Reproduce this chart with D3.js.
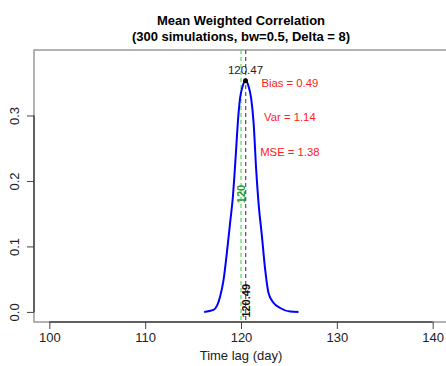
<!DOCTYPE html>
<html>
<head>
<meta charset="utf-8">
<script src="https://cdn.jsdelivr.net/npm/d3@7"></script>
<style>
  body { margin: 0; background: #fff; }
  svg { font-family: "Liberation Sans", Arial, sans-serif; }
</style>
</head>
<body>
<svg id="chart" width="446" height="366"></svg>
<script>
// curve (time lag, weighted correlation)
const lagValues = [116.16, 117.13, 117.83, 118.18, 118.53, 118.87, 119.16, 119.29, 119.5, 119.7, 119.9,
  120.18, 120.47, 120.76, 121.06, 121.32, 121.58, 121.82, 122.18, 122.52, 122.87, 123.39, 124.09, 125.13, 126.0]
const corrValues = [0.0, 0.003, 0.024, 0.049, 0.091, 0.137, 0.177, 0.203, 0.25, 0.295, 0.326,
  0.345, 0.353, 0.346, 0.326, 0.288, 0.218, 0.168, 0.116, 0.065, 0.029, 0.014, 0.006, 0.0005, 0.0]

const xTicks = [100, 110, 120, 130, 140]
const yTicks = [0.0, 0.1, 0.2, 0.3]

const trueLag = 120
const estLag = 120.49
const peak = [120.47, 0.353]
const stats = [`Bias = 0.49`, `Var = 1.14`, `MSE = 1.38`]

//
// layout
//
const mLeft = 34, mRight = 448, mTop = 50, mBottom = 322
const font = `"Liberation Sans", Arial, sans-serif`
const svg = d3.select(`#chart`)

const x = d3.scaleLinear().domain([98.4, 141.6]).range([mLeft, mRight])
const y = d3.scaleLinear().domain([-0.0154, 0.4]).range([mBottom, mTop])

// titles
svg.append(`text`).attr(`x`, 241).attr(`y`, 25).attr(`text-anchor`, `middle`)
  .attr(`font-weight`, `bold`).attr(`font-size`, 13).text(`Mean Weighted Correlation`)
svg.append(`text`).attr(`x`, 241).attr(`y`, 41).attr(`text-anchor`, `middle`)
  .attr(`font-weight`, `bold`).attr(`font-size`, 13).text(`(300 simulations, bw=0.5, Delta = 8)`)

// box
svg.append(`rect`).attr(`x`, mLeft).attr(`y`, mTop).attr(`width`, mRight - mLeft).attr(`height`, mBottom - mTop)
  .attr(`fill`, `none`).attr(`stroke`, `#999`).attr(`stroke-width`, 1.5)

// x axis
const gx = svg.append(`g`).attr(`transform`, `translate(0,${mBottom})`)
  .call(d3.axisBottom(x).tickValues(xTicks).tickSize(7).tickPadding(4).tickFormat(d3.format(`d`)))
gx.select(`.domain`).remove()
gx.selectAll(`.tick line`).attr(`stroke`, `#444`)
gx.selectAll(`text`).attr(`font-size`, 13).attr(`fill`, `#222`).style(`font-family`, font)
svg.append(`line`).attr(`x1`, x(xTicks[0])).attr(`x2`, x(xTicks[xTicks.length - 1]))
  .attr(`y1`, mBottom).attr(`y2`, mBottom).attr(`stroke`, `#444`).attr(`stroke-width`, 1.5)

// y axis
const gy = svg.append(`g`).attr(`transform`, `translate(${mLeft},0)`)
  .call(d3.axisLeft(y).tickValues(yTicks).tickSize(7).tickFormat(d3.format(`.1f`)))
gy.select(`.domain`).remove()
gy.selectAll(`.tick line`).attr(`stroke`, `#444`)
gy.selectAll(`text`).attr(`font-size`, 13).attr(`fill`, `#222`)
  .style(`font-family`, font)
  .attr(`x`, 0).attr(`dy`, 0).attr(`text-anchor`, `middle`)
  .attr(`transform`, `translate(-15,0) rotate(-90)`)
svg.append(`line`).attr(`x1`, mLeft).attr(`x2`, mLeft)
  .attr(`y1`, y(yTicks[0])).attr(`y2`, y(yTicks[yTicks.length - 1])).attr(`stroke`, `#444`).attr(`stroke-width`, 1.5)

// x label
svg.append(`text`).attr(`x`, 241).attr(`y`, 360).attr(`text-anchor`, `middle`)
  .attr(`font-size`, 13).attr(`fill`, `#222`).text(`Time lag (day)`)

// reference lines
svg.append(`line`).attr(`x1`, x(trueLag)).attr(`x2`, x(trueLag)).attr(`y1`, mTop).attr(`y2`, mBottom)
  .attr(`stroke`, `#55dd55`).attr(`stroke-width`, 1.2).attr(`stroke-dasharray`, `4,3`)
svg.append(`line`).attr(`x1`, x(estLag)).attr(`x2`, x(estLag)).attr(`y1`, mTop).attr(`y2`, mBottom)
  .attr(`stroke`, `#555`).attr(`stroke-width`, 1.2).attr(`stroke-dasharray`, `4,3`)

// curve
const line = d3.line().x((d, i) => x(lagValues[i])).y(d => y(d)).curve(d3.curveMonotoneX)
svg.append(`path`).datum(corrValues).attr(`d`, line)
  .attr(`fill`, `none`).attr(`stroke`, `#0000ff`).attr(`stroke-width`, 2)

// peak point and label
svg.append(`circle`).attr(`cx`, x(peak[0])).attr(`cy`, y(peak[1])).attr(`r`, 2.5).attr(`fill`, `#000`)
svg.append(`text`).attr(`x`, x(peak[0])).attr(`y`, y(peak[1]) - 7).attr(`text-anchor`, `middle`)
  .attr(`font-size`, 11.5).attr(`fill`, `#222`).text(peak[0].toFixed(2))

// rotated labels on the vertical lines
svg.append(`text`).attr(`transform`, `translate(${x(trueLag) + 4},${y(0.18)}) rotate(-90)`)
  .attr(`text-anchor`, `middle`).attr(`font-size`, 11).attr(`font-weight`, `bold`)
  .attr(`fill`, `#22a022`).text(`${trueLag}`)
svg.append(`text`).attr(`transform`, `translate(${x(estLag) + 4},${y(0.017)}) rotate(-90)`)
  .attr(`text-anchor`, `middle`).attr(`font-size`, 11).attr(`font-weight`, `bold`)
  .attr(`fill`, `#111`).text(estLag.toFixed(2))

// stats
const statY = [0.344, 0.291, 0.238]
stats.forEach((s, i) => {
  svg.append(`text`).attr(`x`, x(125.1)).attr(`y`, y(statY[i])).attr(`text-anchor`, `middle`)
    .attr(`font-size`, 11.3).attr(`fill`, `#ff2020`).text(s)
})
</script>
</body>
</html>
